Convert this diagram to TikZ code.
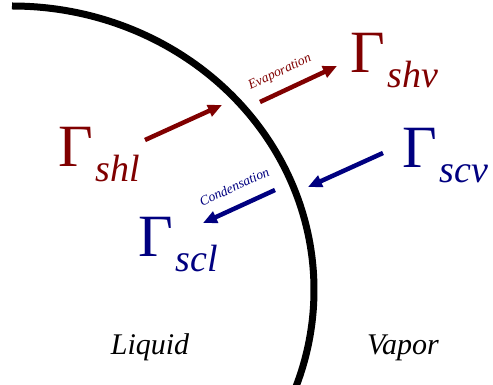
\documentclass[tikz,border=0pt]{standalone}
\usepackage{fontspec}
\setmainfont{Liberation Serif}
\usetikzlibrary{arrows.meta, positioning}

\definecolor{liqred}{RGB}{128,0,0}
\definecolor{vapblue}{RGB}{0,0,128}
\newcommand{\gsub}[1]{Γ\kern3pt\raisebox{-15pt}{\fontsize{38}{38}\selectfont\itshape #1}}

\begin{document}
\begin{tikzpicture}[x=1pt, y=1pt,
        flux/.style = {inner sep=0pt, anchor=base west, font=\fontsize{60}{60}\selectfont},
        phase/.style = {inner sep=0pt, anchor=base, font=\fontsize{30}{30}\selectfont\itshape},
        proc/.style = {line width=4.5pt, -{Triangle[length=14pt, width=12pt]}},
        tag/.style = {sloped, inner sep=0pt, font=\fontsize{13.5}{13.5}\selectfont\itshape},
      ]
      \useasboundingbox (0,0) rectangle (493,385);
      % interface
      \draw[line width=7pt] (12,379) arc[start angle=90, end angle=-24, x radius=302, y radius=284];
      % fluxes
      \node[flux, text=liqred] (shl) at (58,218) {\gsub{shl}};
      \node[flux, text=liqred] (shv) at (350,312) {\gsub{shv}};
      \node[flux, text=vapblue] (scv) at (402,217) {\gsub{scv}};
      \node[flux, text=vapblue] (scl) at (138,128) {\gsub{scl}};
      \coordinate (e1) at (145,245);
      \coordinate (e2) at (222,280);
      \coordinate (e3) at (260,283);
      \coordinate (e4) at (337,319);
      \coordinate (c1) at (383,232);
      \coordinate (c2) at (308,198);
      \coordinate (c3) at (275,195);
      \coordinate (c4) at (203,162);
      \draw[proc, liqred] (e1) -- (e2);
      \draw[proc, liqred] (e3) -- node[tag, above=10pt, pos=0.36, text=liqred] (evap) {Evaporation} (e4);
      \draw[proc, vapblue] (c1) -- (c2);
      \draw[proc, vapblue] (c3) -- node[tag, above=13pt, pos=0.45, text=vapblue] (cond) {Condensation} (c4);
      % phases
      \node[phase] (liq) at (150,30) {Liquid};
      \node[phase] (vap) at (403,30) {Vapor};
    \end{tikzpicture}
\end{document}
